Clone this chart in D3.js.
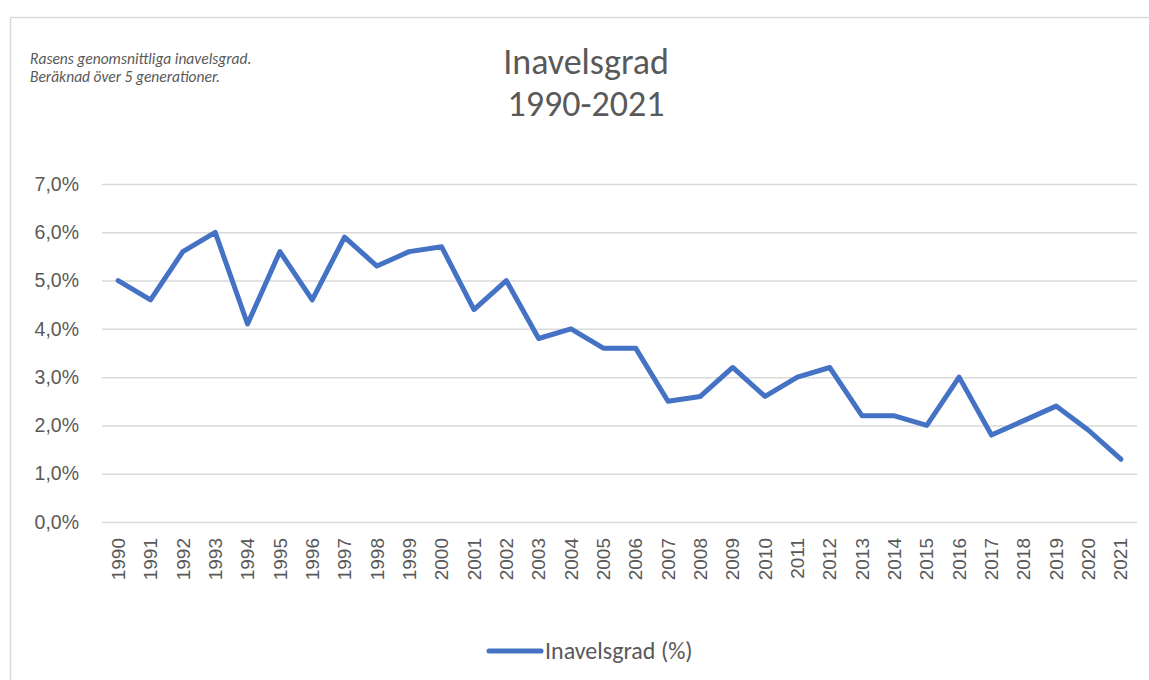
<!DOCTYPE html>
<html>
<head>
<meta charset="utf-8">
<script src="https://cdn.jsdelivr.net/npm/d3@7"></script>
<style>
  body { margin: 0; background: #fff; overflow: hidden; }
  svg { display: block; }
</style>
</head>
<body>
<div id="container"></div>
<script>
const years = ["1990","1991","1992","1993","1994","1995","1996","1997","1998","1999",
               "2000","2001","2002","2003","2004","2005","2006","2007","2008","2009",
               "2010","2011","2012","2013","2014","2015","2016","2017","2018","2019",
               "2020","2021"];
const inbreeding = [5.0, 4.6, 5.6, 6.0, 4.1, 5.6, 4.6, 5.9, 5.3, 5.6,
                    5.7, 4.4, 5.0, 3.8, 4.0, 3.6, 3.6, 2.5, 2.6, 3.2,
                    2.6, 3.0, 3.2, 2.2, 2.2, 2.0, 3.0, 1.8, 2.1, 2.4,
                    1.9, 1.3];
const yTicks = [0, 1, 2, 3, 4, 5, 6, 7];

const titleLines = ["Inavelsgrad", "1990-2021"];
const noteLines = ["Rasens genomsnittliga inavelsgrad.", "Beräknad över 5 generationer."];
const seriesName = "Inavelsgrad (%)";

const W = 1149, H = 680;
const textColor = "#595959";
const lineColor = "#4472C4";
const calibri = "Carlito, Lato, 'Open Sans', sans-serif";
const arial = "'Liberation Sans', Arial, sans-serif";

const svg = d3.select("#container").append("svg")
    .attr("width", W)
    .attr("height", H);

// chart frame (right and bottom edges fall outside the picture)
svg.append("rect")
    .attr("x", 10.5).attr("y", 17.5)
    .attr("width", W + 20).attr("height", H + 10)
    .attr("fill", "#fff")
    .attr("stroke", "#d9d9d9")
    .attr("stroke-width", 1.5);

// note top-left
svg.append("g").selectAll("text")
    .data(noteLines)
    .join("text")
    .attr("x", 30)
    .attr("y", (d, i) => 64 + i * 18)
    .style("font-family", calibri)
    .style("font-style", "italic")
    .style("font-size", "15.5px")
    .attr("fill", textColor)
    .text(d => d);

// title
svg.append("g").selectAll("text")
    .data(titleLines)
    .join("text")
    .attr("x", 586)
    .attr("y", (d, i) => 74 + i * 42)
    .attr("text-anchor", "middle")
    .style("font-family", calibri)
    .style("font-size", "36px")
    .attr("fill", textColor)
    .text(d => d);

const margin = { top: 184, left: 102, right: 12, bottom: 158 };
const plotW = W - margin.left - margin.right;
const plotH = H - margin.top - margin.bottom;

const g = svg.append("g")
    .attr("transform", `translate(${margin.left},${margin.top})`);

const x = d3.scaleBand().domain(years).range([0, plotW]);
const y = d3.scaleLinear().domain([0, 7]).range([plotH, 0]);

// gridlines + y labels
const yAxis = g.append("g")
    .call(d3.axisLeft(y)
        .tickValues(yTicks)
        .tickSize(-plotW)
        .tickPadding(23)
        .tickFormat(d => d3.format(".1f")(d).replace(".", ",") + "%"));
yAxis.select(".domain").remove();
yAxis.selectAll(".tick line").attr("stroke", "#d9d9d9").attr("stroke-width", 1.5);
yAxis.selectAll(".tick text")
    .attr("fill", textColor)
    .style("font-family", arial)
    .style("font-size", "19.5px");

// x labels
const xAxis = g.append("g")
    .attr("transform", `translate(0,${plotH})`)
    .call(d3.axisBottom(x).tickSize(0));
xAxis.select(".domain").remove();
xAxis.selectAll(".tick text")
    .attr("transform", "rotate(-90)")
    .attr("text-anchor", "end")
    .attr("x", -16)
    .attr("y", 0)
    .attr("dy", "0.35em")
    .attr("fill", textColor)
    .style("font-family", arial)
    .style("font-size", "19px");

// line
const pts = years.map((yr, i) => ({ yr: yr, v: inbreeding[i] }));
g.append("path")
    .datum(pts)
    .attr("fill", "none")
    .attr("stroke", lineColor)
    .attr("stroke-width", 5)
    .attr("stroke-linejoin", "round")
    .attr("stroke-linecap", "round")
    .attr("d", d3.line()
        .x(d => x(d.yr) + x.bandwidth() / 2)
        .y(d => y(d.v)));

// legend
const legend = svg.append("g").attr("transform", "translate(489,651)");
legend.append("line")
    .attr("x1", 0).attr("x2", 52)
    .attr("stroke", lineColor)
    .attr("stroke-width", 5)
    .attr("stroke-linecap", "round");
legend.append("text")
    .attr("x", 56)
    .attr("dy", "0.35em")
    .style("font-family", calibri)
    .style("font-size", "24px")
    .attr("fill", textColor)
    .text(seriesName);
</script>
</body>
</html>
